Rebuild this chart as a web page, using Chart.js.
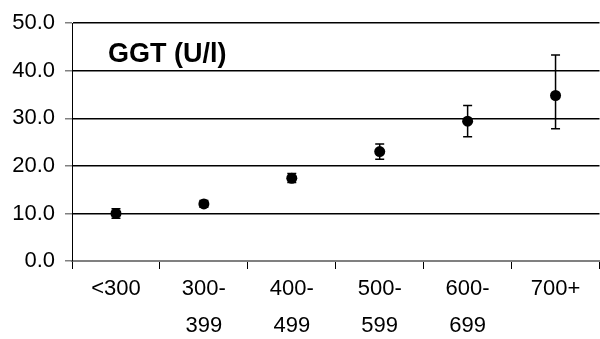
<!DOCTYPE html>
<html>
<head>
<meta charset="utf-8">
<script src="https://cdn.jsdelivr.net/npm/chart.js@4/dist/chart.umd.min.js"></script>
<style>
  html, body { margin: 0; padding: 0; background: #fff; overflow: hidden; width: 600px; height: 339px; }
  canvas { display: block; }
</style>
</head>
<body>
<canvas id="c" width="605" height="339"></canvas>
<script>
// Score bands on the x axis (each label split over two lines where needed)
const categories = [["<300"], ["300-", "399"], ["400-", "499"], ["500-", "599"], ["600-", "699"], ["700+"]];
// Mean GGT per band, with lower/upper ends of the error bars
const ggtMean = [10.0, 12.0, 17.4, 23.0, 29.4, 34.8];
const ggtLow  = [9.0, 11.3, 16.5, 21.4, 26.1, 27.8];
const ggtHigh = [11.0, 12.7, 18.4, 24.6, 32.7, 43.3];
// Value axis ticks
const yTicks = [0, 10, 20, 30, 40, 50];
const panelTitle = "GGT (U/l)";

const FONT = "'Liberation Sans', Arial, sans-serif";

// Vertical error bars with caps, drawn under the markers
const errorBars = {
  id: 'errorBars',
  beforeDatasetsDraw(chart) {
    const { ctx, scales: { x, y } } = chart;
    ctx.save();
    ctx.strokeStyle = '#000';
    ctx.lineWidth = 1.5;
    ggtMean.forEach((_, i) => {
      const px = x.getPixelForValue(i);
      const lo = y.getPixelForValue(ggtLow[i]);
      const hi = y.getPixelForValue(ggtHigh[i]);
      ctx.beginPath();
      ctx.moveTo(px, lo); ctx.lineTo(px, hi);
      ctx.moveTo(px - 4.5, lo); ctx.lineTo(px + 4.5, lo);
      ctx.moveTo(px - 4.5, hi); ctx.lineTo(px + 4.5, hi);
      ctx.stroke();
    });
    ctx.restore();
  }
};

// Bold caption inside the plot area, top left
const innerTitle = {
  id: 'innerTitle',
  afterDraw(chart) {
    const { ctx, chartArea } = chart;
    ctx.save();
    ctx.font = "bold 27px " + FONT;
    ctx.fillStyle = '#000';
    ctx.textAlign = 'left';
    ctx.textBaseline = 'middle';
    ctx.fillText(panelTitle, chartArea.left + 36, chartArea.top + 31);
    ctx.restore();
  }
};

new Chart(document.getElementById('c'), {
  type: 'line',
  data: {
    labels: categories,
    datasets: [{
      data: ggtMean,
      showLine: false,
      pointRadius: 5.5,
      pointHoverRadius: 5.5,
      pointBackgroundColor: '#000',
      pointBorderColor: '#000',
      pointBorderWidth: 0
    }]
  },
  options: {
    responsive: false,
    animation: false,
    events: [],
    layout: { padding: { top: 16, left: 0, right: 0, bottom: 0 } },
    plugins: { legend: { display: false }, tooltip: { enabled: false }, title: { display: false } },
    scales: {
      x: {
        offset: true,
        afterFit(s) { s.height = 78; },
        grid: { display: true, offset: true, drawOnChartArea: false, drawTicks: true, tickLength: 8, color: '#000', lineWidth: 1 },
        border: { display: true, color: '#808080', width: 2 },
        ticks: { color: '#000', font: { family: FONT, size: 22, lineHeight: '37px' }, padding: 1, maxRotation: 0, autoSkip: false }
      },
      y: {
        min: 0,
        max: 50,
        afterFit(s) { s.width = 72; },
        afterBuildTicks(s) { s.ticks = yTicks.map(v => ({ value: v })); },
        grid: {
          color: ctx => ctx.tick && ctx.tick.value === 0 ? 'rgba(0,0,0,0)' : '#000',
          lineWidth: 1.5,
          drawTicks: true,
          tickLength: 7,
          tickColor: '#808080'
        },
        border: { display: true, color: '#000', width: 1 },
        ticks: {
          color: '#000',
          font: { family: FONT, size: 22 },
          padding: 10,
          callback: v => Number(v).toFixed(1)
        }
      }
    }
  },
  plugins: [errorBars, innerTitle]
});
</script>
</body>
</html>
